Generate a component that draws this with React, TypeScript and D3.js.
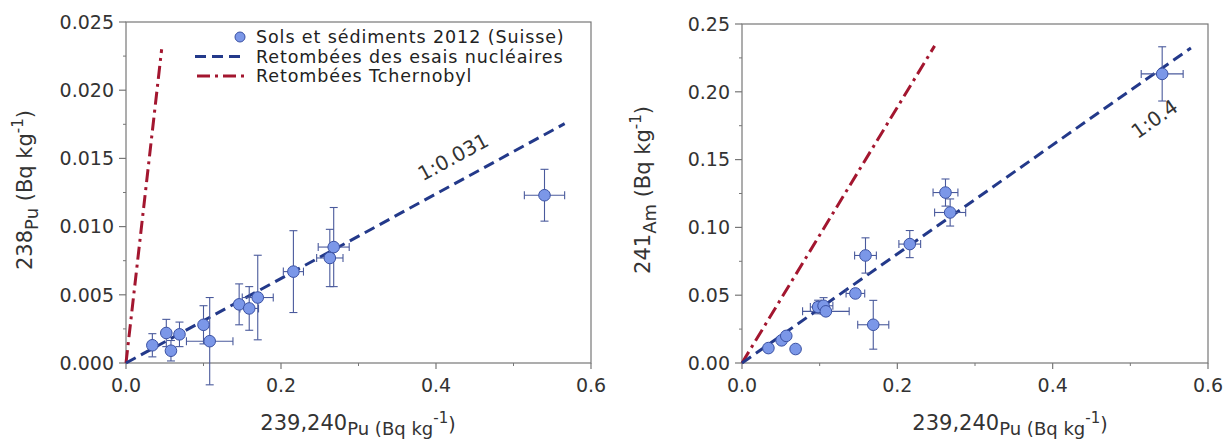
import React from 'react';
import * as d3 from 'd3';

// left panel: 238Pu vs 239,240Pu
const puX = [0.034, 0.052, 0.058, 0.069, 0.100, 0.108, 0.146, 0.159, 0.170, 0.216, 0.263, 0.268, 0.540];
const puXErr = [0.003, 0.004, 0.005, 0.004, 0.004, 0.030, 0.005, 0.012, 0.020, 0.013, 0.017, 0.020, 0.026];
const pu238 = [0.0013, 0.0022, 0.0009, 0.0021, 0.0028, 0.0016, 0.0043, 0.0040, 0.0048, 0.0067, 0.0077, 0.0085, 0.0123];
const pu238Err = [0.00085, 0.001, 0.00075, 0.0009, 0.0014, 0.0032, 0.0015, 0.0016, 0.0031, 0.003, 0.0021, 0.0029, 0.0019];

// right panel: 241Am vs 239,240Pu
const amX = [0.034, 0.051, 0.057, 0.069, 0.098, 0.105, 0.108, 0.146, 0.159, 0.169, 0.216, 0.262, 0.268, 0.541];
const amXErr = [0.003, 0.004, 0.004, 0.004, 0.010, 0.012, 0.030, 0.012, 0.014, 0.020, 0.014, 0.016, 0.020, 0.027];
const am241 = [0.011, 0.0167, 0.020, 0.0103, 0.0413, 0.0422, 0.0381, 0.0513, 0.0793, 0.0282, 0.0877, 0.1257, 0.111, 0.2132];
const am241Err = [0.002, 0.002, 0.002, 0.002, 0.005, 0.006, 0.003, 0.003, 0.013, 0.018, 0.010, 0.010, 0.010, 0.020];

// reference ratio lines: [slope, x end]
const puFallout = [0.031, 0.566];
const puChernobyl = [0.5, 0.046];
const amFallout = [0.402, 0.578];
const amChernobyl = [0.943, 0.248];

const xTicks = [0, 0.2, 0.4, 0.6];
const puYTicks = [0, 0.005, 0.01, 0.015, 0.02, 0.025];
const amYTicks = [0, 0.05, 0.1, 0.15, 0.2, 0.25];

const legendItems = ['Sols et sédiments 2012 (Suisse)', 'Retombées des esais nucléaires', 'Retombées Tchernobyl'];

const FONT = 'DejaVu Sans, Verdana, sans-serif';
const TXT = '#333';
const AXIS = '#777';
const BLUE = '#23398a';
const RED = '#a3162f';
const PT_FILL = '#7b97e8';
const PT_STROKE = '#3a51a3';
const BAR = '#4a5a9c';
const DASH = '11,6';
const DASHDOT = '13,5,3,5';

function Panel(props) {
  const { left, right, top, bottom, yMax, yTicks, yFmt, xs, xErr, ys, yErr, fallout, chern,
    ratioLabel, ratioPos, yLabel, yLabelX, xLabelX, legend } = props;
  const x = d3.scaleLinear().domain([0, 0.6]).range([left, right]);
  const y = d3.scaleLinear().domain([0, yMax]).range([bottom, top]);
  const fmt = d3.format(yFmt);
  const xMinor = d3.range(0.1, 0.6, 0.2);
  const yMinor = yTicks.slice(0, -1).map((t, i) => (t + yTicks[i + 1]) / 2);
  const line = d3.line().x(d => x(d[0])).y(d => y(d[1]));
  const angle = Math.atan2(y(0) - y(fallout[0] * fallout[1]), x(fallout[1]) - x(0)) * 180 / Math.PI;

  return (
    <g>
      {/* frame */}
      <rect x={left} y={top} width={right - left} height={bottom - top} fill="none" stroke={AXIS} strokeWidth={1.2} />
      {yTicks.map(t => (
        <g key={'y' + t}>
          <line x1={left - 7} x2={left} y1={y(t)} y2={y(t)} stroke={AXIS} strokeWidth={1.2} />
          <text x={left - 12} y={y(t)} dy="0.36em" textAnchor="end" fontSize={19} fill={TXT} fontFamily={FONT}>{fmt(t)}</text>
        </g>
      ))}
      {yMinor.map(t => (
        <line key={'ym' + t} x1={left - 3} x2={left} y1={y(t)} y2={y(t)} stroke={AXIS} strokeWidth={1} />
      ))}
      {xTicks.map(t => (
        <g key={'x' + t}>
          <line x1={x(t)} x2={x(t)} y1={bottom} y2={bottom + 6} stroke={AXIS} strokeWidth={1.2} />
          <text x={x(t)} y={bottom + 29} textAnchor="middle" fontSize={19} fill={TXT} fontFamily={FONT}>{d3.format('.1f')(t)}</text>
        </g>
      ))}
      {xMinor.map(t => (
        <line key={'xm' + t} x1={x(t)} x2={x(t)} y1={bottom} y2={bottom + 3} stroke={AXIS} strokeWidth={1} />
      ))}

      {/* ratio lines */}
      <path d={line([[0, 0], [chern[1], chern[0] * chern[1]]])} fill="none" stroke={RED} strokeWidth={3} strokeDasharray={DASHDOT} />
      <path d={line([[0, 0], [fallout[1], fallout[0] * fallout[1]]])} fill="none" stroke={BLUE} strokeWidth={3} strokeDasharray={DASH} />

      {/* error bars */}
      {xs.map((v, i) => (
        <g key={'e' + i} stroke={BAR} strokeWidth={1.1}>
          <line x1={x(v)} x2={x(v)} y1={y(ys[i] - yErr[i])} y2={y(ys[i] + yErr[i])} />
          <line x1={x(v) - 4} x2={x(v) + 4} y1={y(ys[i] - yErr[i])} y2={y(ys[i] - yErr[i])} />
          <line x1={x(v) - 4} x2={x(v) + 4} y1={y(ys[i] + yErr[i])} y2={y(ys[i] + yErr[i])} />
          <line x1={x(v - xErr[i])} x2={x(v + xErr[i])} y1={y(ys[i])} y2={y(ys[i])} />
          <line x1={x(v - xErr[i])} x2={x(v - xErr[i])} y1={y(ys[i]) - 4} y2={y(ys[i]) + 4} />
          <line x1={x(v + xErr[i])} x2={x(v + xErr[i])} y1={y(ys[i]) - 4} y2={y(ys[i]) + 4} />
        </g>
      ))}
      {xs.map((v, i) => (
        <circle key={'c' + i} cx={x(v)} cy={y(ys[i])} r={5.8} fill={PT_FILL} stroke={PT_STROKE} strokeWidth={1} />
      ))}

      <text transform={`translate(${x(ratioPos[0])},${y(ratioPos[1])}) rotate(${-angle})`} textAnchor="middle" dy="0.35em"
        fontSize={20} fill={TXT} fontFamily={FONT}>{ratioLabel}</text>

      {/* axis titles */}
      <text transform={`translate(${yLabelX},190) rotate(-90)`} textAnchor="middle" fontSize={21} fill={TXT} fontFamily={FONT}>
        <tspan>{yLabel[0]}</tspan>
        <tspan fontSize={18} dy={6}>{yLabel[1]}</tspan>
        <tspan fontSize={21} dy={-6}> (Bq kg</tspan>
        <tspan fontSize={15} dy={-9}>-1</tspan>
        <tspan fontSize={21} dy={9}>)</tspan>
      </text>
      <text x={xLabelX} y={430} textAnchor="middle" fontSize={21} fill={TXT} fontFamily={FONT}>
        <tspan>239,240</tspan>
        <tspan fontSize={18} dy={5}>Pu (Bq kg</tspan>
        <tspan fontSize={15} dy={-12}>-1</tspan>
        <tspan fontSize={19} dy={8}>)</tspan>
      </text>

      {legend && (
        <g fontFamily={FONT} fontSize={17.5} fill="#222" letterSpacing={0.9}>
          <circle cx={240} cy={37} r={5} fill={PT_FILL} stroke={PT_STROKE} />
          <line x1={195} x2={243} y1={56.5} y2={56.5} stroke={BLUE} strokeWidth={3} strokeDasharray={DASH} />
          <line x1={197} x2={245} y1={76} y2={76} stroke={RED} strokeWidth={3} strokeDasharray={DASHDOT} />
          {legendItems.map((s, i) => (
            <text key={s} x={256} y={37 + i * 19.5} dy="0.36em">{s}</text>
          ))}
        </g>
      )}
    </g>
  );
}

export default function App() {
  return (
    <svg width={1231} height={439} style={{ position: 'absolute', left: 0, top: 0, background: '#fff' }}>
      <Panel left={126} right={591} top={22} bottom={363} yMax={0.025} yTicks={puYTicks} yFmt=".3f"
        xs={puX} xErr={puXErr} ys={pu238} yErr={pu238Err} fallout={puFallout} chern={puChernobyl}
        ratioLabel="1:0.031" ratioPos={[0.422, 0.0151]} yLabel={['238', 'Pu']} yLabelX={32} xLabelX={358} legend />
      <Panel left={742} right={1208} top={24} bottom={363} yMax={0.25} yTicks={amYTicks} yFmt=".2f"
        xs={amX} xErr={amXErr} ys={am241} yErr={am241Err} fallout={amFallout} chern={amChernobyl}
        ratioLabel="1:0.4" ratioPos={[0.531, 0.18]} yLabel={['241', 'Am']} yLabelX={650} xLabelX={1010} legend={false} />
    </svg>
  );
}
